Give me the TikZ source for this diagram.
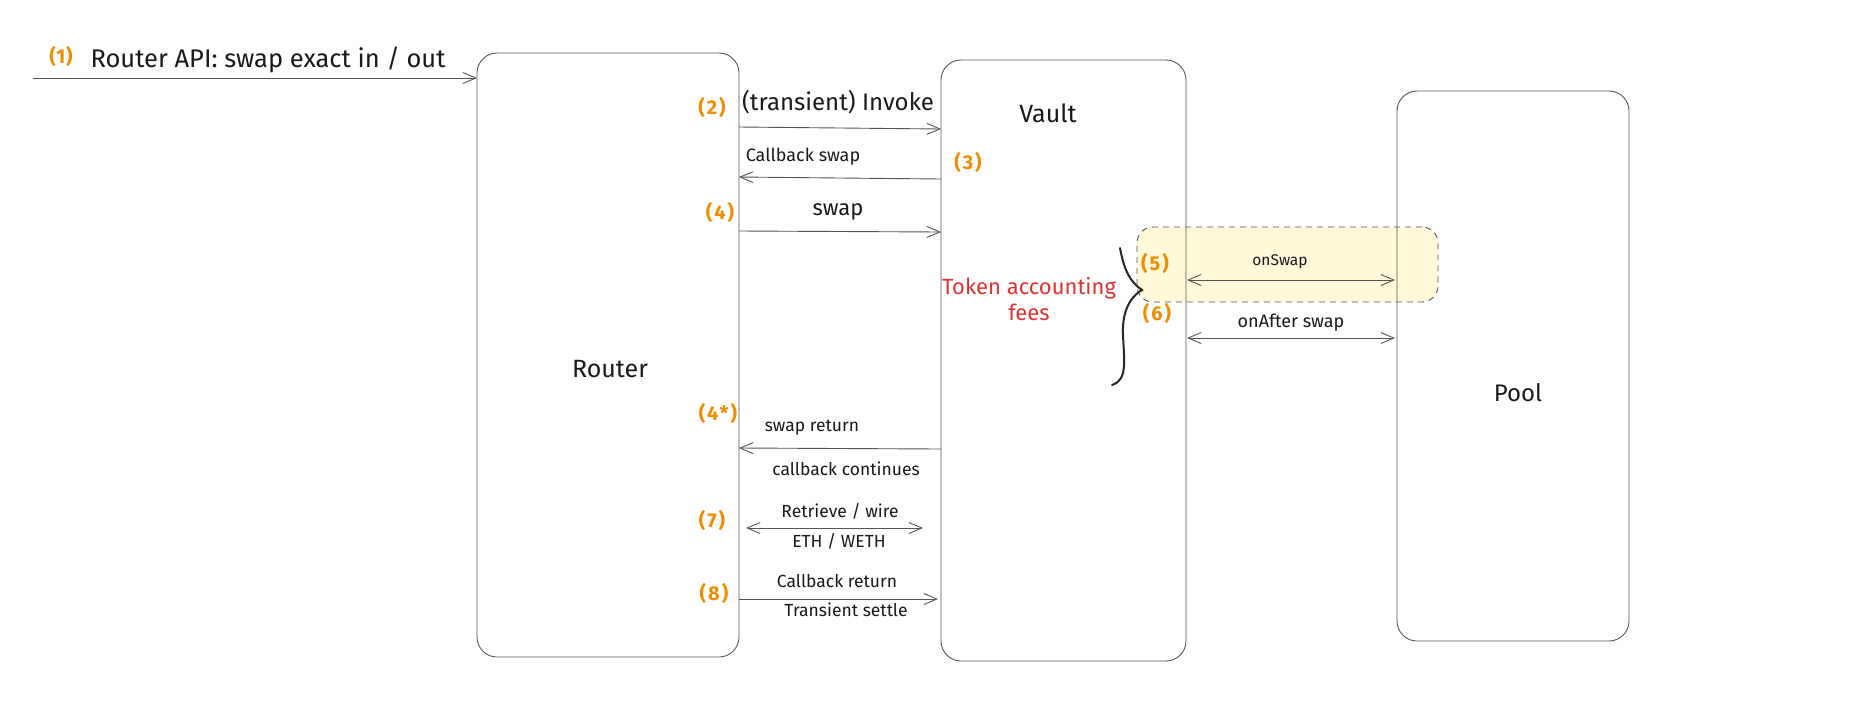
\documentclass[tikz,border=0pt]{standalone}
\usepackage{fontspec}
\setmainfont{Fira Sans}
\usetikzlibrary{arrows.meta}
\definecolor{orng}{HTML}{F08C00}
\definecolor{redt}{HTML}{E03131}
\definecolor{hl}{HTML}{FFF3BF}
\definecolor{ln}{HTML}{555555}
\newcommand{\fs}[1]{\fontsize{#1}{#1}\selectfont}
\tikzset{
  box/.style={draw=ln, line width=0.9pt, rounded corners=20pt, inner sep=0pt},
  arr/.style={draw=ln, line width=0.9pt, -{Straight Barb[length=13pt,width=11pt]}},
  darr/.style={draw=ln, line width=0.9pt, {Straight Barb[length=13pt,width=11pt]}-{Straight Barb[length=13pt,width=11pt]}},
  num/.style={text=orng, font=\fs{20}\bfseries\addfontfeature{LetterSpace=10}, inner sep=0pt},
  txt/.style={text=black!90, inner sep=0pt},
}
\begin{document}
\begin{tikzpicture}[x=1pt,y=-1pt]
\useasboundingbox (0,0) rectangle (1851,713);
% highlight
\node[draw=ln, fill=hl, fill opacity=0.6, draw opacity=1, dash pattern=on 6pt off 5pt, line width=0.9pt, rounded corners=16pt, minimum width=301pt, minimum height=75pt, inner sep=0pt] (hlbox) at (1287.5,264.5) {};
% boxes
\node[box, minimum width=262pt, minimum height=604pt] (router) at (608,355) {};
\node[box, minimum width=245pt, minimum height=601pt] (vault) at (1063.5,360.5) {};
\node[box, minimum width=232pt, minimum height=550pt] (pool) at (1513,366) {};
\node[txt, font=\fs{25}] (routerlbl) at (610,369) {Router};
\node[txt, font=\fs{25}] (vaultlbl) at (1048,113) {Vault};
\node[txt, font=\fs{24}] (poollbl) at (1518,393) {Pool};
% (1)
\coordinate (in1) at (33,78);
\coordinate (r1) at (477,78);
\draw[arr] (in1) -- (r1);
\node[num, font=\fs{20}\bfseries\addfontfeature{LetterSpace=4}] (n1) at (61,56) {(1)};
\node[txt, font=\fs{25.5}] (t1) at (268,60) {Router API: swap exact in / out};
% (2)
\coordinate (r2) at (739,127);
\coordinate (v2) at (941,129);
\draw[arr] (r2) -- (v2);
\node[num] (n2) at (712,107) {(2)};
\node[txt, font=\fs{24}] (t2) at (838,102) {(transient) Invoke};
% (3)
\coordinate (v3) at (941,179);
\coordinate (r3) at (739,177);
\draw[arr] (v3) -- (r3);
\node[txt, font=\fs{18}] (t3) at (803,157) {Callback swap};
\node[num] (n3) at (968,162) {(3)};
% (4)
\coordinate (r4) at (739,231);
\coordinate (v4) at (941,232);
\draw[arr] (r4) -- (v4);
\node[txt, font=\fs{22}] (t4) at (838,212) {swap};
\node[num] (n4) at (720,212) {(4)};
% (5)
\coordinate (v5) at (1187,280);
\coordinate (p5) at (1395,280);
\draw[darr] (v5) -- (p5);
\node[txt, font=\fs{15.5}] (t5) at (1280,262) {onSwap};
\node[num] (n5) at (1155,263) {(5)};
% (6)
\coordinate (v6) at (1187,338);
\coordinate (p6) at (1395,338);
\draw[darr] (v6) -- (p6);
\node[txt, font=\fs{18}] (t6) at (1291,323) {onAfter swap};
\node[num] (n6) at (1157,313) {(6)};
% brace
\draw[line width=2pt, black!85, line cap=round] (1120,248) .. controls (1124,270) and (1130,282) .. (1142,290)
  .. controls (1128,298) and (1122,315) .. (1123,335)
  .. controls (1124,360) and (1128,380) .. (1112,385);
\node[text=redt, font=\fontsize{22}{26}\selectfont, inner sep=0pt, align=center] (tok) at (1029,299) {Token accounting\\fees};
% (4*)
\coordinate (v7) at (941,449);
\coordinate (r7) at (739,448);
\draw[arr] (v7) -- (r7);
\node[txt, font=\fs{17.5}] (t7a) at (812,428) {swap return};
\node[txt, font=\fs{17.5}] (t7b) at (846,469) {callback continues};
\node[num] (n7) at (718,413) {(4*)};
% (7)
\coordinate (r8) at (746,528);
\coordinate (v8) at (923,528);
\draw[darr] (r8) -- (v8);
\node[txt, font=\fs{17.5}] (t8a) at (840,511) {Retrieve / wire};
\node[txt, font=\fs{17.5}] (t8b) at (839,541) {ETH / WETH};
\node[num] (n8) at (712,520) {(7)};
% (8)
\coordinate (r9) at (739,599);
\coordinate (v9) at (938,599);
\draw[arr] (r9) -- (v9);
\node[txt, font=\fs{17.5}] (t9a) at (837,581) {Callback return};
\node[txt, font=\fs{17.5}] (t9b) at (846,610) {Transient settle};
\node[num] (n9) at (714,593) {(8)};
\end{tikzpicture}
\end{document}
